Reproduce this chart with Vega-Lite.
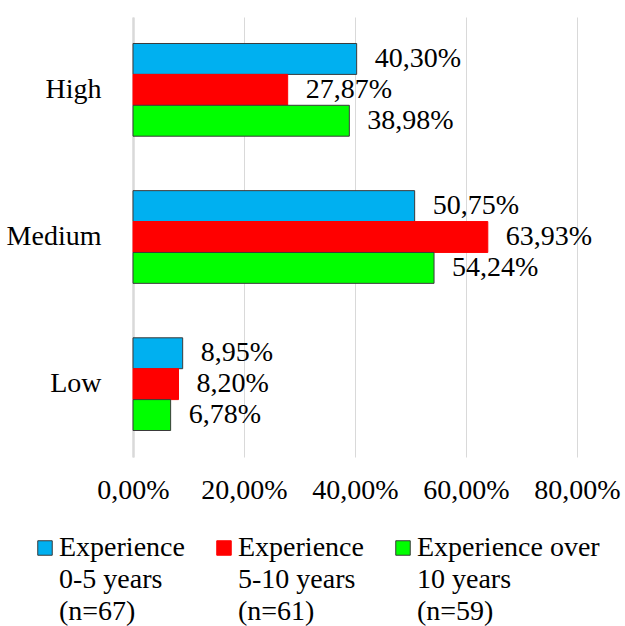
{
  "$schema": "https://vega.github.io/schema/vega-lite/v6.json",
  "autosize": {"type": "none"},
  "width": 444,
  "height": 440,
  "padding": {"left": 133, "top": 17, "right": 48, "bottom": 169},
  "background": "white",
  "config": {
    "font": "Liberation Serif, Times New Roman, serif",
    "view": {"stroke": null},
    "locale": {"number": {"decimal": ",", "thousands": ".", "grouping": [3], "currency": ["", "€"]}}
  },
  "data": {
    "values": [
      {"level": "High", "group": "Experience|0-5 years|(n=67)", "value": 0.4030},
      {"level": "High", "group": "Experience|5-10 years|(n=61)", "value": 0.2787},
      {"level": "High", "group": "Experience over|10 years|(n=59)", "value": 0.3898},
      {"level": "Medium", "group": "Experience|0-5 years|(n=67)", "value": 0.5075},
      {"level": "Medium", "group": "Experience|5-10 years|(n=61)", "value": 0.6393},
      {"level": "Medium", "group": "Experience over|10 years|(n=59)", "value": 0.5424},
      {"level": "Low", "group": "Experience|0-5 years|(n=67)", "value": 0.0895},
      {"level": "Low", "group": "Experience|5-10 years|(n=61)", "value": 0.0820},
      {"level": "Low", "group": "Experience over|10 years|(n=59)", "value": 0.0678}
    ]
  },
  "encoding": {
    "y": {
      "field": "level", "type": "nominal", "sort": ["High", "Medium", "Low"],
      "scale": {"paddingInner": 0.37, "paddingOuter": 0.18},
      "axis": {"title": null, "labelFontSize": 28, "labelColor": "black", "labelPadding": 32, "ticks": false, "domainColor": "#D9D9D9", "domainWidth": 2.5, "labelFont": "Liberation Serif, Times New Roman, serif"}
    },
    "yOffset": {
      "field": "group", "type": "nominal",
      "sort": ["Experience|0-5 years|(n=67)", "Experience|5-10 years|(n=61)", "Experience over|10 years|(n=59)"]
    },
    "x": {
      "field": "value", "type": "quantitative",
      "scale": {"domain": [0, 0.8], "nice": false},
      "axis": {"title": null, "format": ".2%", "values": [0, 0.2, 0.4, 0.6, 0.8], "labelOverlap": false, "labelFlush": false, "labelFontSize": 28, "labelColor": "black", "labelPadding": 19, "ticks": false, "domain": false, "gridColor": "#D9D9D9", "gridWidth": 1, "labelFont": "Liberation Serif, Times New Roman, serif"}
    }
  },
  "layer": [
    {
      "mark": {"type": "bar", "strokeWidth": 1},
      "encoding": {
        "fill": {
          "field": "group", "type": "nominal",
          "sort": ["Experience|0-5 years|(n=67)", "Experience|5-10 years|(n=61)", "Experience over|10 years|(n=59)"],
          "scale": {"range": ["#00B0F0", "#FF0000", "#00FF00"]},
          "legend": {
            "orient": "none", "legendX": -102, "legendY": 517, "direction": "horizontal", "columns": 3,
            "title": null, "symbolType": "square", "symbolSize": 210, "symbolStrokeWidth": 1,
            "labelFontSize": 28, "labelFont": "Liberation Serif, Times New Roman, serif", "labelColor": "black", "labelOffset": 0,
            "columnPadding": 25, "labelLimit": 300,
            "labelExpr": "split(datum.label, '|')",
            "labelBaseline": "middle",
            "encode": {
              "labels": {"update": {"lineHeight": {"value": 32}}},
              "symbols": {"update": {"stroke": {"signal": "indexof(datum.value, '5-10') >= 0 ? '#FF0000' : '#3A3A3A'"}}}
            }
          }
        },
        "stroke": {
          "field": "group", "type": "nominal",
          "sort": ["Experience|0-5 years|(n=67)", "Experience|5-10 years|(n=61)", "Experience over|10 years|(n=59)"],
          "scale": {"range": ["#3A3A3A", "#FF0000", "#3A3A3A"]},
          "legend": null
        }
      }
    },
    {
      "mark": {"type": "text", "align": "left", "baseline": "middle", "dx": 18, "fontSize": 28, "font": "Liberation Serif, Times New Roman, serif", "color": "black"},
      "encoding": {
        "text": {"field": "value", "type": "quantitative", "format": ".2%"}
      }
    }
  ]
}
